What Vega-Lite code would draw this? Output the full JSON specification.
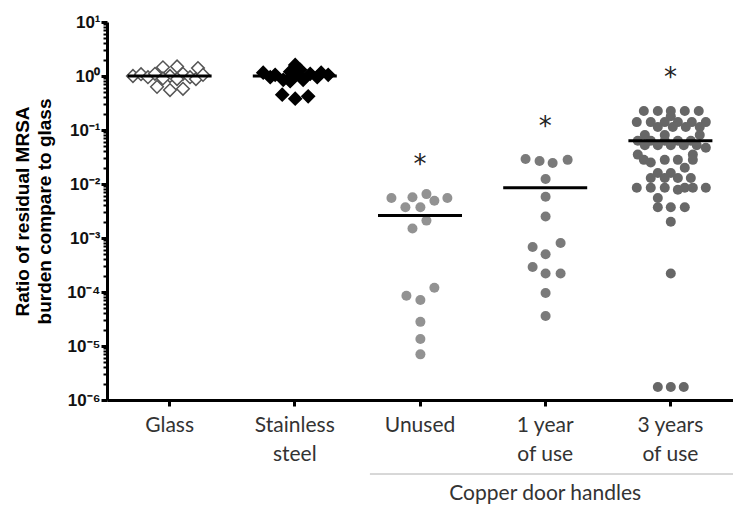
{
  "$schema": "https://vega.github.io/schema/vega-lite/v6.json",
  "width": 626,
  "height": 378,
  "autosize": "none",
  "padding": {"left": 107, "top": 22, "right": 0, "bottom": 107},
  "background": "white",
  "config": {"view": {"stroke": null}},
  "datasets": {
    "pts": [
      {"g": "Glass", "v": 1.0, "j": -0.294},
      {"g": "Glass", "v": 1.08, "j": -0.23},
      {"g": "Glass", "v": 0.95, "j": -0.175},
      {"g": "Glass", "v": 1.1, "j": -0.119},
      {"g": "Glass", "v": 1.45, "j": -0.056},
      {"g": "Glass", "v": 0.63, "j": -0.103},
      {"g": "Glass", "v": 1.0, "j": 0.0},
      {"g": "Glass", "v": 1.5, "j": 0.056},
      {"g": "Glass", "v": 0.55, "j": 0.0},
      {"g": "Glass", "v": 1.1, "j": 0.103},
      {"g": "Glass", "v": 0.58, "j": 0.103},
      {"g": "Glass", "v": 0.95, "j": 0.159},
      {"g": "Glass", "v": 1.4, "j": 0.222},
      {"g": "Glass", "v": 0.88, "j": 0.206},
      {"g": "Glass", "v": 1.05, "j": 0.262},
      {"g": "Glass", "v": 0.9, "j": -0.056},
      {"g": "Glass", "v": 0.88, "j": 0.056},
      {"g": "Stainless steel", "v": 1.15, "j": -0.254},
      {"g": "Stainless steel", "v": 1.05, "j": -0.159},
      {"g": "Stainless steel", "v": 0.85, "j": -0.095},
      {"g": "Stainless steel", "v": 1.2, "j": -0.04},
      {"g": "Stainless steel", "v": 1.6, "j": 0.0},
      {"g": "Stainless steel", "v": 1.05, "j": 0.0},
      {"g": "Stainless steel", "v": 1.3, "j": 0.04},
      {"g": "Stainless steel", "v": 0.85, "j": 0.063},
      {"g": "Stainless steel", "v": 1.1, "j": 0.119},
      {"g": "Stainless steel", "v": 0.95, "j": 0.175},
      {"g": "Stainless steel", "v": 1.05, "j": 0.262},
      {"g": "Stainless steel", "v": 0.95, "j": -0.198},
      {"g": "Stainless steel", "v": 0.45, "j": -0.103},
      {"g": "Stainless steel", "v": 0.38, "j": 0.0},
      {"g": "Stainless steel", "v": 0.42, "j": 0.103},
      {"g": "Stainless steel", "v": 0.8, "j": -0.04},
      {"g": "Stainless steel", "v": 1.15, "j": 0.206},
      {"g": "Unused", "v": 0.0055, "j": -0.23},
      {"g": "Unused", "v": 0.0037, "j": -0.119},
      {"g": "Unused", "v": 0.0057, "j": -0.063},
      {"g": "Unused", "v": 0.0037, "j": 0.0},
      {"g": "Unused", "v": 0.0065, "j": 0.048},
      {"g": "Unused", "v": 0.0049, "j": 0.111},
      {"g": "Unused", "v": 0.0055, "j": 0.214},
      {"g": "Unused", "v": 0.0021, "j": 0.048},
      {"g": "Unused", "v": 0.0015, "j": -0.063},
      {"g": "Unused", "v": 0.00012, "j": 0.111},
      {"g": "Unused", "v": 0.000085, "j": -0.111},
      {"g": "Unused", "v": 0.000071, "j": 0.0},
      {"g": "Unused", "v": 0.000028, "j": 0.0},
      {"g": "Unused", "v": 0.0000135, "j": 0.0},
      {"g": "Unused", "v": 0.000007, "j": 0.0},
      {"g": "1 year of use", "v": 0.029, "j": -0.159},
      {"g": "1 year of use", "v": 0.0267, "j": -0.048},
      {"g": "1 year of use", "v": 0.0245, "j": 0.056},
      {"g": "1 year of use", "v": 0.028, "j": 0.175},
      {"g": "1 year of use", "v": 0.0124, "j": 0.0},
      {"g": "1 year of use", "v": 0.0058, "j": 0.0},
      {"g": "1 year of use", "v": 0.0025, "j": 0.0},
      {"g": "1 year of use", "v": 0.00068, "j": -0.103},
      {"g": "1 year of use", "v": 0.00081, "j": 0.119},
      {"g": "1 year of use", "v": 0.0005, "j": 0.0},
      {"g": "1 year of use", "v": 0.00029, "j": -0.103},
      {"g": "1 year of use", "v": 0.00022, "j": 0.0},
      {"g": "1 year of use", "v": 0.00022, "j": 0.119},
      {"g": "1 year of use", "v": 0.000096, "j": 0.0},
      {"g": "1 year of use", "v": 0.000036, "j": 0.0},
      {"g": "3 years of use", "v": 0.225, "j": -0.214},
      {"g": "3 years of use", "v": 0.225, "j": -0.103},
      {"g": "3 years of use", "v": 0.225, "j": 0.0},
      {"g": "3 years of use", "v": 0.225, "j": 0.111},
      {"g": "3 years of use", "v": 0.225, "j": 0.222},
      {"g": "3 years of use", "v": 0.18, "j": 0.0},
      {"g": "3 years of use", "v": 0.14, "j": -0.27},
      {"g": "3 years of use", "v": 0.14, "j": -0.159},
      {"g": "3 years of use", "v": 0.14, "j": -0.048},
      {"g": "3 years of use", "v": 0.14, "j": 0.056},
      {"g": "3 years of use", "v": 0.14, "j": 0.167},
      {"g": "3 years of use", "v": 0.14, "j": 0.278},
      {"g": "3 years of use", "v": 0.114, "j": -0.103},
      {"g": "3 years of use", "v": 0.114, "j": 0.016},
      {"g": "3 years of use", "v": 0.114, "j": 0.119},
      {"g": "3 years of use", "v": 0.114, "j": 0.23},
      {"g": "3 years of use", "v": 0.081, "j": -0.206},
      {"g": "3 years of use", "v": 0.081, "j": -0.048},
      {"g": "3 years of use", "v": 0.081, "j": 0.23},
      {"g": "3 years of use", "v": 0.063, "j": -0.262},
      {"g": "3 years of use", "v": 0.063, "j": -0.159},
      {"g": "3 years of use", "v": 0.063, "j": -0.048},
      {"g": "3 years of use", "v": 0.063, "j": 0.056},
      {"g": "3 years of use", "v": 0.063, "j": 0.159},
      {"g": "3 years of use", "v": 0.052, "j": -0.206},
      {"g": "3 years of use", "v": 0.052, "j": -0.103},
      {"g": "3 years of use", "v": 0.052, "j": 0.0},
      {"g": "3 years of use", "v": 0.052, "j": 0.103},
      {"g": "3 years of use", "v": 0.052, "j": 0.206},
      {"g": "3 years of use", "v": 0.047, "j": 0.278},
      {"g": "3 years of use", "v": 0.035, "j": -0.262},
      {"g": "3 years of use", "v": 0.035, "j": 0.175},
      {"g": "3 years of use", "v": 0.028, "j": -0.214},
      {"g": "3 years of use", "v": 0.028, "j": -0.048},
      {"g": "3 years of use", "v": 0.028, "j": 0.056},
      {"g": "3 years of use", "v": 0.028, "j": 0.175},
      {"g": "3 years of use", "v": 0.025, "j": -0.159},
      {"g": "3 years of use", "v": 0.02, "j": 0.111},
      {"g": "3 years of use", "v": 0.016, "j": -0.103},
      {"g": "3 years of use", "v": 0.016, "j": 0.0},
      {"g": "3 years of use", "v": 0.0129, "j": -0.159},
      {"g": "3 years of use", "v": 0.0129, "j": -0.048},
      {"g": "3 years of use", "v": 0.0129, "j": 0.056},
      {"g": "3 years of use", "v": 0.0129, "j": 0.159},
      {"g": "3 years of use", "v": 0.0085, "j": -0.27},
      {"g": "3 years of use", "v": 0.0085, "j": -0.159},
      {"g": "3 years of use", "v": 0.0085, "j": -0.048},
      {"g": "3 years of use", "v": 0.0078, "j": 0.056},
      {"g": "3 years of use", "v": 0.0085, "j": 0.111},
      {"g": "3 years of use", "v": 0.0085, "j": 0.175},
      {"g": "3 years of use", "v": 0.0085, "j": 0.278},
      {"g": "3 years of use", "v": 0.0055, "j": -0.103},
      {"g": "3 years of use", "v": 0.0037, "j": -0.103},
      {"g": "3 years of use", "v": 0.0037, "j": 0.0},
      {"g": "3 years of use", "v": 0.0037, "j": 0.111},
      {"g": "3 years of use", "v": 0.002, "j": 0.0},
      {"g": "3 years of use", "v": 0.00022, "j": 0.0},
      {"g": "3 years of use", "v": 0.00000174, "j": -0.103},
      {"g": "3 years of use", "v": 0.00000174, "j": 0.0},
      {"g": "3 years of use", "v": 0.00000174, "j": 0.103}
    ],
    "summary": [
      {"g": "Glass", "median": 1.0, "star": null},
      {"g": "Stainless steel", "median": 1.0, "star": null},
      {"g": "Unused", "median": 0.0026, "star": 0.028},
      {"g": "1 year of use", "median": 0.0085, "star": 0.14},
      {"g": "3 years of use", "median": 0.063, "star": 1.12}
    ]
  },
  "encoding": {
    "x": {
      "field": "g",
      "type": "nominal",
      "sort": null,
      "scale": {"type": "band", "domain": ["Glass", "Stainless steel", "Unused", "1 year of use", "3 years of use"], "paddingInner": 0, "paddingOuter": 0},
      "axis": {
        "title": null,
        "labelAngle": 0,
        "labelFont": "Lato",
        "labelFontSize": 21,
        "labelColor": "#333333",
        "labelLineHeight": 29,
        "labelPadding": 8,
        "labelBaseline": "top",
        "labelExpr": "datum.value == 'Stainless steel' ? ['Stainless', 'steel'] : datum.value == '1 year of use' ? ['1 year', 'of use'] : datum.value == '3 years of use' ? ['3 years', 'of use'] : datum.value",
        "domainColor": "black",
        "domainWidth": 3,
        "tickColor": "black",
        "tickWidth": 3,
        "tickSize": 6,
        "grid": false
      }
    },
    "y": {
      "type": "quantitative",
      "scale": {"type": "log", "domain": [0.000001, 10], "nice": false},
      "axis": {
        "title": ["Ratio of residual MRSA", "burden compare to glass"],
        "titleFont": "Liberation Sans",
        "titleFontWeight": "bold",
        "titleFontSize": 19,
        "titleLineHeight": 22,
        "titleColor": "black",
        "titlePadding": 12,
        "values": [0.000001, 0.000002, 0.000003, 0.000004, 0.000005, 0.000006, 0.000007, 0.000008, 0.000009, 0.00001, 0.00002, 0.00003, 0.00004, 0.00005, 0.00006, 0.00007, 0.00008, 0.00009, 0.0001, 0.0002, 0.0003, 0.0004, 0.0005, 0.0006, 0.0007, 0.0008, 0.0009, 0.001, 0.002, 0.003, 0.004, 0.005, 0.006, 0.007, 0.008, 0.009, 0.01, 0.02, 0.03, 0.04, 0.05, 0.06, 0.07, 0.08, 0.09, 0.1, 0.2, 0.3, 0.4, 0.5, 0.6, 0.7, 0.8, 0.9, 1, 2, 3, 4, 5, 6, 7, 8, 9, 10],
        "labelExpr": "abs(log(datum.value)/LN10 - round(log(datum.value)/LN10)) < 0.000001 ? '10' + ['⁻⁶','⁻⁵','⁻⁴','⁻³','⁻²','⁻¹','⁰','¹'][round(log(datum.value)/LN10) + 6] : ''",
        "labelFont": "Liberation Sans",
        "labelFontSize": 17,
        "labelFontWeight": "bold",
        "labelColor": "#111111",
        "labelPadding": 1,
        "labelFlush": false,
        "labelOverlap": false,
        "domainColor": "black",
        "domainWidth": 3,
        "tickColor": "black",
        "tickWidth": {"condition": {"test": "abs(log(datum.value)/LN10 - round(log(datum.value)/LN10)) < 0.000001", "value": 3}, "value": 2},
        "tickSize": {"condition": {"test": "abs(log(datum.value)/LN10 - round(log(datum.value)/LN10)) < 0.000001", "value": 6}, "value": 4},
        "grid": false
      }
    }
  },
  "layer": [
    {
      "data": {"name": "pts"},
      "transform": [{"filter": "datum.g == 'Glass' || datum.g == 'Stainless steel'"}],
      "mark": {"type": "point", "shape": "diamond", "size": 160, "strokeWidth": 1.5, "opacity": 1},
      "encoding": {
        "y": {"field": "v", "type": "quantitative"},
        "xOffset": {"field": "j", "type": "quantitative", "scale": {"domain": [-0.5, 0.5], "range": [0, 126]}},
        "fill": {"field": "g", "type": "nominal", "scale": {"domain": ["Glass", "Stainless steel"], "range": ["#ffffff", "#000000"]}, "legend": null},
        "stroke": {"field": "g", "type": "nominal", "scale": {"domain": ["Glass", "Stainless steel"], "range": ["#555555", "#000000"]}, "legend": null}
      }
    },
    {
      "data": {"name": "pts"},
      "transform": [{"filter": "datum.g != 'Glass' && datum.g != 'Stainless steel'"}],
      "mark": {"type": "circle", "size": 100, "opacity": 1},
      "encoding": {
        "y": {"field": "v", "type": "quantitative"},
        "xOffset": {"field": "j", "type": "quantitative", "scale": {"domain": [-0.5, 0.5], "range": [0, 126]}},
        "color": {"field": "g", "type": "nominal", "scale": {"domain": ["Unused", "1 year of use", "3 years of use"], "range": ["#929292", "#7a7a7a", "#676767"]}, "legend": null}
      }
    },
    {
      "data": {"name": "summary"},
      "mark": {"type": "tick", "orient": "horizontal", "size": 84, "thickness": 3, "color": "black", "opacity": 1},
      "encoding": {
        "y": {"field": "median", "type": "quantitative"}
      }
    },
    {
      "data": {"name": "summary"},
      "transform": [{"filter": "datum.star != null"}],
      "mark": {"type": "text", "text": "*", "font": "DejaVu Sans", "fontSize": 26, "color": "#222222", "baseline": "middle", "dy": 5},
      "encoding": {
        "y": {"field": "star", "type": "quantitative"}
      }
    },
    {
      "data": {"values": [{}]},
      "mark": {"type": "rule", "color": "#b0b0b0", "strokeWidth": 1},
      "encoding": {
        "x": {"datum": "Unused", "bandPosition": 0.1},
        "x2": {"datum": "3 years of use", "bandPosition": 1},
        "y": {"datum": 0.0000000426}
      }
    },
    {
      "data": {"values": [{}]},
      "mark": {"type": "text", "text": "Copper door handles", "font": "Lato", "fontSize": 21, "color": "#333333", "baseline": "alphabetic"},
      "encoding": {
        "x": {"datum": "1 year of use"},
        "y": {"datum": 0.0000000143}
      }
    }
  ]
}
